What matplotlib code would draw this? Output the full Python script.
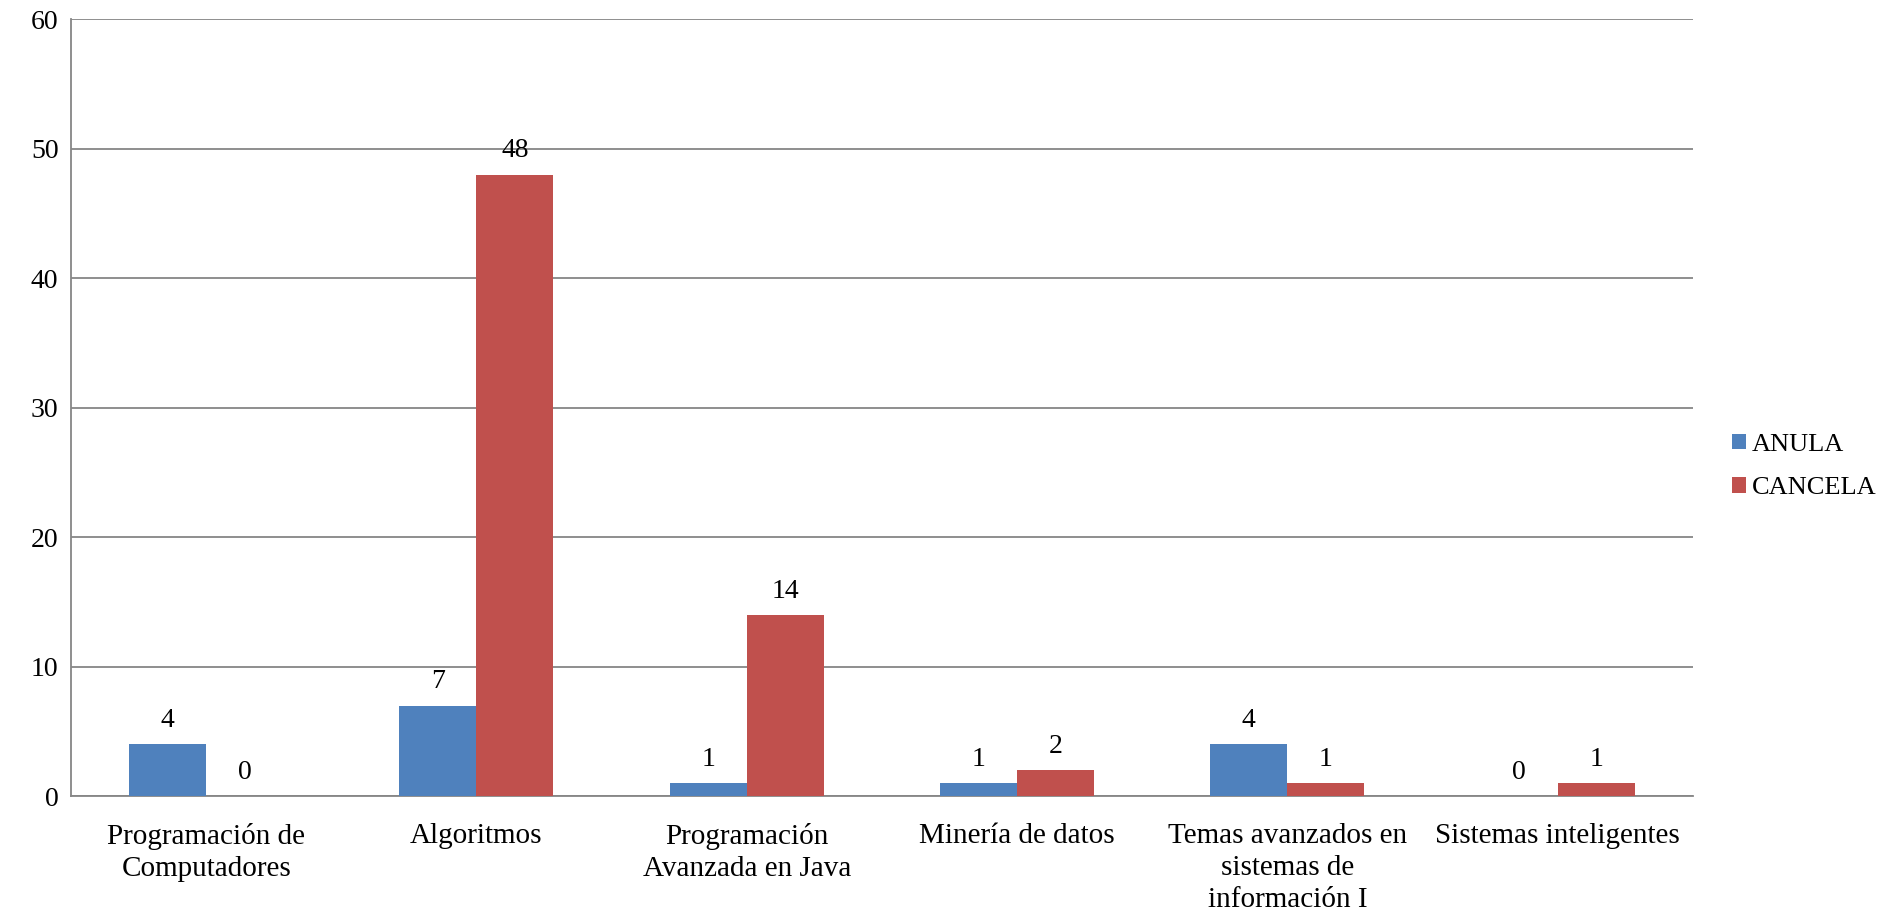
import numpy as np
import matplotlib
matplotlib.use("Agg")
import matplotlib.pyplot as plt

categories = ["Programación de\nComputadores", "Algoritmos", "Programación\nAvanzada en Java",
              "Minería de datos", "Temas avanzados en\nsistemas de\ninformación I", "Sistemas inteligentes"]
anula = [4, 7, 1, 1, 4, 0]
cancela = [0, 48, 14, 2, 1, 1]
series_names = ["ANULA", "CANCELA"]
yticks = [0, 10, 20, 30, 40, 50, 60]

plt.rcParams['font.family'] = ['Liberation Serif', 'DejaVu Serif']

fig = plt.figure(figsize=(18.83, 9.10), dpi=100)
ax = fig.add_axes([0.0377, 0.125, 0.8613, 0.854])

x = np.arange(len(categories))
w = 0.285
b1 = ax.bar(x - w/2, anula, w, color='#4F81BD', label=series_names[0], zorder=3)
b2 = ax.bar(x + w/2, cancela, w, color='#C0504D', label=series_names[1], zorder=3)

for bars in (b1, b2):
    for r in bars:
        v = r.get_height()
        ax.annotate(str(int(v)), (r.get_x() + r.get_width()/2, v), xytext=(0, 8),
                    textcoords='offset points', ha='center', va='bottom', fontsize=20)

ax.set_xlim(-0.5, len(categories) - 0.5)
ax.set_ylim(0, 60)
ax.set_yticks(yticks)
ax.set_yticklabels([str(t) for t in yticks], fontsize=20)
ax.set_xticks(x)
ax.set_xticklabels(categories, fontsize=21, linespacing=1.3, va='top')
ax.tick_params(axis='both', length=0)
ax.tick_params(axis='x', pad=19)
ax.tick_params(axis='y', pad=9)
ax.yaxis.grid(True, color='#868686', linewidth=1.3, zorder=0)
for s in ('top', 'right'):
    ax.spines[s].set_visible(False)
for s in ('left', 'bottom'):
    ax.spines[s].set_color('#868686')
    ax.spines[s].set_linewidth(1.3)

ax.legend(loc='center left', bbox_to_anchor=(0.920, 0.487), bbox_transform=fig.transFigure,
          frameon=False, fontsize=19, borderaxespad=0, borderpad=0,
          handlelength=0.5, handleheight=0.5, handletextpad=0.25, labelspacing=0.8)

fig.savefig("out.png", dpi=100)
